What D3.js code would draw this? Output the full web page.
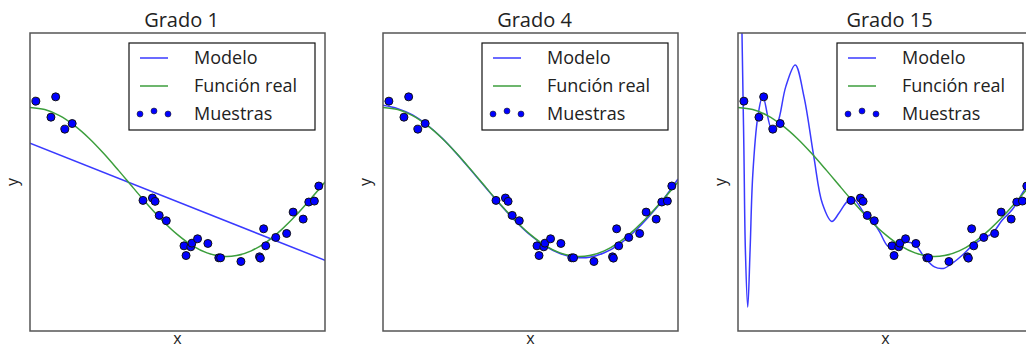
<!DOCTYPE html>
<html>
<head>
<meta charset="utf-8">
<script src="https://cdn.jsdelivr.net/npm/d3@7"></script>
<style>
  body { margin: 0; background: #fff; }
  svg { display: block; font-family: "Open Sans", "Noto Sans", sans-serif; }
</style>
</head>
<body>
<svg id="chart" width="1026" height="348"></svg>
<script>
// samples
var sampleX = [0.020, 0.071, 0.087, 0.118, 0.143, 0.383, 0.415, 0.424, 0.438, 0.462,
               0.522, 0.529, 0.545, 0.549, 0.568, 0.603, 0.640, 0.646, 0.715, 0.778,
               0.781, 0.792, 0.799, 0.833, 0.870, 0.892, 0.926, 0.945, 0.964, 0.979];
var sampleY = [1.085, 0.870, 1.143, 0.709, 0.785, -0.247, -0.215, -0.260, -0.448, -0.520,
               -0.857, -0.987, -0.870, -0.821, -0.762, -0.825, -1.018, -1.018, -1.067, -1.004,
               -1.022, -0.628, -0.857, -0.744, -0.691, -0.404, -0.498, -0.269, -0.256, -0.054];

var gridX = [0, 0.05, 0.1, 0.15, 0.2, 0.25, 0.3, 0.35, 0.4, 0.45, 0.5,
             0.55, 0.6, 0.65, 0.7, 0.75, 0.8, 0.85, 0.9, 0.95, 1];
var trueY = [1, 0.972, 0.891, 0.760, 0.588, 0.383, 0.156, -0.079, -0.309, -0.523, -0.707,
             -0.853, -0.951, -0.997, -0.988, -0.924, -0.809, -0.649, -0.454, -0.233, 0];

var model1X = [0, 1];
var model1Y = [0.52, -1.05];

var model4Y = [1.03, 0.985, 0.90, 0.765, 0.59, 0.38, 0.15, -0.085, -0.315, -0.53, -0.715,
               -0.86, -0.96, -1.01, -1.01, -0.95, -0.84, -0.675, -0.47, -0.235, 0.04];

var model15X = [0, 0.0135, 0.020, 0.025, 0.033, 0.041, 0.050, 0.067, 0.084, 0.115, 0.134,
                0.162, 0.194, 0.224, 0.257, 0.286, 0.318, 0.342, 0.371, 0.392, 0.432,
                0.446, 0.480, 0.508, 0.536, 0.570, 0.598, 0.632, 0.666, 0.696, 0.727,
                0.761, 0.795, 0.829, 0.862, 0.896, 0.930, 0.964, 1];
var model15Y = [5.0, 2.0, 0.43, -0.91, -1.68, -0.91, 0.09, 0.87, 1.15, 0.70, 0.79,
                1.28, 1.57, 1.14, 0.34, -0.29, -0.53, -0.42, -0.26, -0.23, -0.44,
                -0.47, -0.67, -0.86, -0.88, -0.81, -0.83, -1.01, -1.14, -1.16, -1.09,
                -0.98, -0.85, -0.76, -0.69, -0.51, -0.37, -0.15, 0.08];

var titles = ["Grado 1", "Grado 4", "Grado 15"];
var legendLabels = ["Modelo", "Función real", "Muestras"];

var models = [
    {x: model1X, y: model1Y},
    {x: gridX, y: model4Y},
    {x: model15X, y: model15Y}
];

var BLUE = "#3a3aff", GREEN = "#3c9e3c";
var panelLeft = [30, 383, 738];
var panelTop = 33, pw = 295, ph = 298;

var svg = d3.select("#chart");

function zip(xs, ys){ return xs.map(function(x, i){ return [x, ys[i]]; }); }

panelLeft.forEach(function(left, p){
    var x = d3.scaleLinear().domain([0, 1]).range([0, pw]);
    var y = d3.scaleLinear().domain([-2, 2]).range([ph, 0]);
    var g = svg.append("g").attr("transform", "translate(" + left + "," + panelTop + ")");

    g.append("clipPath").attr("id", "clip" + p)
        .append("rect").attr("width", pw).attr("height", ph);

    var line = d3.line()
        .x(function(d){ return x(d[0]); })
        .y(function(d){ return y(d[1]); })
        .curve(d3.curveCatmullRom.alpha(0.5));

    var plot = g.append("g").attr("clip-path", "url(#clip" + p + ")");
    plot.append("path").datum(zip(models[p].x, models[p].y))
        .attr("d", line).attr("fill", "none")
        .attr("stroke", BLUE).attr("stroke-width", 1.5);
    plot.append("path").datum(zip(gridX, trueY))
        .attr("d", line).attr("fill", "none")
        .attr("stroke", GREEN).attr("stroke-width", 1.5);
    plot.selectAll("circle").data(zip(sampleX, sampleY)).enter().append("circle")
        .attr("cx", function(d){ return x(d[0]); })
        .attr("cy", function(d){ return y(d[1]); })
        .attr("r", 4)
        .attr("fill", "#0000ff").attr("stroke", "#111").attr("stroke-width", 1);

    g.append("rect").attr("width", pw).attr("height", ph)
        .attr("fill", "none").attr("stroke", "#555").attr("stroke-width", 1.5);

    // title + axis labels
    g.append("text").attr("x", pw / 2 + 4).attr("y", -6)
        .attr("text-anchor", "middle").attr("font-size", 20).attr("fill", "#222")
        .text(titles[p]);
    g.append("text").attr("x", pw / 2).attr("y", ph + 13)
        .attr("text-anchor", "middle").attr("font-size", 16).attr("fill", "#222")
        .text("x");
    g.append("text").attr("transform", "translate(-12," + (ph / 2) + ") rotate(-90)")
        .attr("text-anchor", "middle").attr("font-size", 16).attr("fill", "#222")
        .text("y");

    // legend
    var lg = g.append("g").attr("transform", "translate(" + (pw - 196) + ",10)");
    lg.append("rect").attr("width", 186).attr("height", 87)
        .attr("fill", "#fff").attr("stroke", "#111").attr("stroke-width", 1.2);
    [BLUE, GREEN].forEach(function(c, i){
        lg.append("line").attr("x1", 11).attr("x2", 39)
            .attr("y1", 15 + i * 28).attr("y2", 15 + i * 28)
            .attr("stroke", c).attr("stroke-width", 1.5);
    });
    [[11, 71], [25, 68], [39, 71]].forEach(function(d){
        lg.append("circle").attr("cx", d[0]).attr("cy", d[1]).attr("r", 3)
            .attr("fill", "#0000ff").attr("stroke", "#222").attr("stroke-width", 0.6);
    });
    legendLabels.forEach(function(t, i){
        lg.append("text").attr("x", 65).attr("y", 15 + i * 28)
            .attr("dy", "0.35em").attr("font-size", 18).attr("fill", "#222")
            .text(t);
    });
});
</script>
</body>
</html>
